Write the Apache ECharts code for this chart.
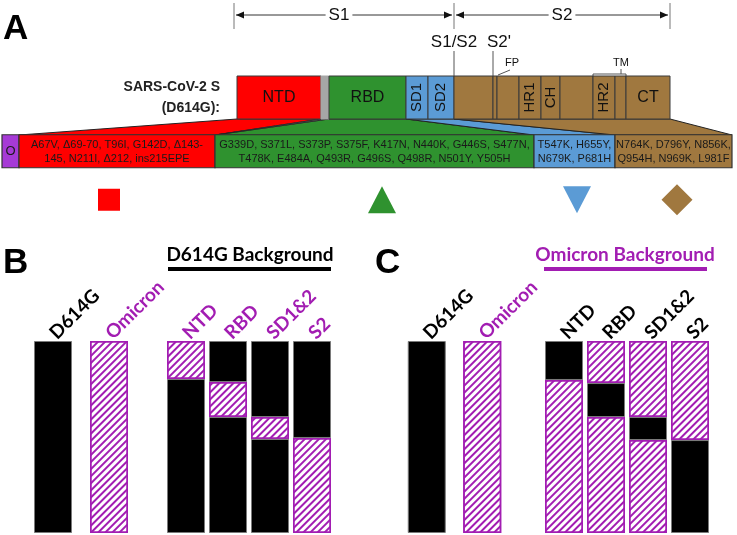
<!DOCTYPE html>
<html><head><meta charset="utf-8">
<script src="https://cdn.jsdelivr.net/npm/echarts@6/dist/echarts.min.js"></script>
<style>html,body{margin:0;padding:0;background:#fff}#c{width:737px;height:535px}</style>
</head><body><div id="c"></div>
<script>
// ================= DATA =================
// Panel A: spike schematic (schematic units along the S protein bar)
const domainLabels = ['NTD', '', 'RBD', 'SD1', 'SD2', '', '', '', 'HR1', 'CH', '', 'HR2', '', 'CT'];
const domainKinds  = ['NTD', 'gap', 'RBD', 'SD', 'SD', 'S2', 'S2', 'S2', 'S2', 'S2', 'S2', 'S2', 'S2', 'S2'];
const domainBounds = [0, 84, 92, 169, 191, 217, 256, 260, 282, 304, 323, 356, 378, 389, 433];
const subunitNames = ['S1', 'S2'];
const subunitBounds = [0, 217, 433];
const cleavageNames = ['S1/S2', "S2'"];
const cleavagePos = [217, 256];
const fpPos = 260;
const tmSpan = [356, 389];
const tmLabelPos = 384;

// Omicron mutation blocks (schematic units along the mutation bar)
const mutRegions = ['O', 'NTD', 'RBD', 'SD', 'S2'];
const mutBounds = [0, 17, 213, 532, 613, 730];
const mutTexts = [
  'O',
  'A67V, \u039469-70, T96I, G142D, \u0394143-\n145, N211I, \u0394212, ins215EPE',
  'G339D, S371L, S373P, S375F, K417N, N440K, G446S, S477N,\nT478K, E484A, Q493R, G496S, Q498R, N501Y, Y505H',
  'T547K, H655Y,\nN679K, P681H',
  'N764K, D796Y, N856K,\nQ954H, N969K, L981F'
];
// domain span each mutation block came from
const mutDomainStart = [null, 0, 92, 169, 217];
const mutDomainEnd   = [null, 84, 169, 217, 433];
const markerRegions = ['NTD', 'RBD', 'SD', 'S2'];
const markerPos = [107, 380, 575, 675];

// Panels B / C: chimera bars (percent of spike length, from the top)
const parentCats = ['D614G', 'Omicron'];
const chimeraCats = ['NTD', 'RBD', 'SD1&2', 'S2'];
const barLength = 100;
const swapStartB = [0, 21.4, 39.6, 50.5];
const swapEndB   = [19.8, 39.6, 51.0, 100];
const swapStartC = [0, 21.9, 39.6, 51.6];
const swapEndC   = [20.3, 39.6, 51.6, 100];

// ================= STYLE =================
const PURPLE = '#a21db2';
const regionColor = { NTD: '#ff0000', gap: '#a6a6a6', RBD: '#2f922f', SD: '#5b9bd5', S2: '#a0783f', O: '#a63ad6' };
const BLACK = { color: '#000', borderColor: '#7a7a7a', borderWidth: 1 };
const HATCH = {
  color: '#fff', borderColor: PURPLE, borderWidth: 1.5,
  decal: { symbol: 'rect', symbolSize: 1, dashArrayX: [1, 0], dashArrayY: [2, 3], rotation: -Math.PI / 4, color: PURPLE }
};
const SANS = '"Liberation Sans", Arial, sans-serif';
const LABELF = 'Lato, "Open Sans", sans-serif';

const chart = echarts.init(document.getElementById('c'));

function nz(v) { return v > 0.001 ? v : '-'; }
function segs(starts, ends) {
  const pre = [], swap = [], post = [];
  for (let i = 0; i < starts.length; i++) {
    pre.push(nz(starts[i]));
    swap.push(nz(ends[i] - starts[i]));
    post.push(nz(barLength - ends[i]));
  }
  return { pre, swap, post };
}
function styled(arr, st) { return arr.map(v => ({ value: v, itemStyle: st })); }

const segB = segs(swapStartB, swapEndB);
const segC = segs(swapStartC, swapEndC);

const hiddenY = (gi) => ({ gridIndex: gi, type: 'value', min: 0, max: barLength, inverse: true, show: false });
const labelAxis = (gi, cats, colors) => ({
  gridIndex: gi, type: 'category', data: cats, position: 'top',
  axisLine: { show: false }, axisTick: { show: false },
  axisLabel: { rotate: 45, margin: 5, fontFamily: LABELF, fontWeight: 'bold', fontSize: 19, color: (v, i) => colors[i] }
});

const domainData = domainLabels.map((l, i) => [domainBounds[i], domainBounds[i + 1], 0]);
const mutData = mutRegions.map((r, i) => [mutBounds[i], mutBounds[i + 1], 0]);

const vertical = { SD1: 1, SD2: 1, HR1: 1, CH: 1, HR2: 1 };

const option = {
  animation: false,
  grid: [
    { left: 237, width: 433, top: 76, height: 43 },             // 0 domain bar
    { left: 2, width: 730, top: 127, height: 97 },              // 1 mutation bar + markers
    { left: 25, width: 112, top: 341, height: 192 },            // 2 B parents
    { left: 165, width: 168, top: 341, height: 192 },           // 3 B chimeras
    { left: 399, width: 111, top: 341, height: 192 },           // 4 C parents
    { left: 543, width: 168, top: 341, height: 192 }            // 5 C chimeras
  ],
  xAxis: [
    { gridIndex: 0, type: 'value', min: 0, max: 433, show: false },
    { gridIndex: 1, type: 'value', min: 0, max: 730, show: false },
    labelAxis(2, parentCats, ['#000', PURPLE]),
    labelAxis(3, chimeraCats, [PURPLE, PURPLE, PURPLE, PURPLE]),
    labelAxis(4, parentCats, ['#000', PURPLE]),
    labelAxis(5, chimeraCats, ['#000', '#000', '#000', '#000'])
  ],
  yAxis: [
    { gridIndex: 0, type: 'category', data: ['SARS-CoV-2 S\n(D614G):'], axisLine: { show: false }, axisTick: { show: false },
      axisLabel: { margin: 17, fontFamily: SANS, fontWeight: 'bold', fontSize: 14, lineHeight: 21, color: '#222', align: 'right' } },
    { gridIndex: 1, type: 'category', data: ['mutations', 'markers'], inverse: true, show: false },
    hiddenY(2), hiddenY(3), hiddenY(4), hiddenY(5)
  ],
  series: [
    {
      type: 'custom', xAxisIndex: 0, yAxisIndex: 0, data: domainData, encode: { x: [0, 1], y: 2 }, z: 5,
      renderItem: function (params, api) {
        const i = params.dataIndex;
        const a = api.coord([api.value(0), api.value(2)]);
        const b = api.coord([api.value(1), api.value(2)]);
        const h = api.size([0, 1])[1];
        const kind = domainKinds[i];
        const lab = domainLabels[i];
        const children = [{
          type: 'rect', shape: { x: a[0], y: a[1] - h / 2, width: b[0] - a[0], height: h },
          style: { fill: regionColor[kind], stroke: kind === 'gap' ? regionColor.gap : '#3a3a3a', lineWidth: 1 }
        }];
        if (lab) {
          children.push({
            type: 'text', x: (a[0] + b[0]) / 2, y: a[1], rotation: vertical[lab] ? Math.PI / 2 : 0,
            style: { text: lab, fill: '#111', font: (vertical[lab] ? '15px ' : '16px ') + SANS, align: 'center', verticalAlign: 'middle', textAlign: 'center', textVerticalAlign: 'middle' }
          });
        }
        return { type: 'group', children };
      }
    },
    {
      type: 'custom', xAxisIndex: 1, yAxisIndex: 1, data: mutData, encode: { x: [0, 1], y: 2 }, z: 5,
      renderItem: function (params, api) {
        const i = params.dataIndex;
        const a = api.coord([api.value(0), api.value(2)]);
        const b = api.coord([api.value(1), api.value(2)]);
        const h = 33;
        return {
          type: 'group', children: [
            { type: 'rect', shape: { x: a[0], y: a[1] - h / 2, width: b[0] - a[0], height: h },
              style: { fill: regionColor[mutRegions[i]], stroke: '#333', lineWidth: 1.2 } },
            { type: 'text', x: (a[0] + b[0]) / 2, y: a[1] + 0.5,
              style: { text: mutTexts[i], fill: '#1a1a1a', font: (i === 0 ? '13px ' : '11px ') + SANS, lineHeight: 14,
                align: 'center', verticalAlign: 'middle', textAlign: 'center', textVerticalAlign: 'middle' } }
          ]
        };
      }
    },
    {
      type: 'scatter', xAxisIndex: 1, yAxisIndex: 1, z: 5,
      data: markerRegions.map((r, i) => {
        const sym = [['rect', [22, 22], 0], ['triangle', [28, 27], 0], ['triangle', [28, 27], 180], ['diamond', [31, 31], 0]][i];
        return { value: [markerPos[i], 1], symbol: sym[0], symbolSize: sym[1], symbolRotate: sym[2], itemStyle: { color: regionColor[r], opacity: 1 } };
      })
    },
    // Panel B
    { type: 'bar', xAxisIndex: 2, yAxisIndex: 2, barWidth: 38, data: [{ value: barLength, itemStyle: BLACK }, { value: barLength, itemStyle: HATCH }] },
    { type: 'bar', xAxisIndex: 3, yAxisIndex: 3, barWidth: 38, stack: 'b', data: styled(segB.pre, BLACK) },
    { type: 'bar', xAxisIndex: 3, yAxisIndex: 3, barWidth: 38, stack: 'b', data: styled(segB.swap, HATCH) },
    { type: 'bar', xAxisIndex: 3, yAxisIndex: 3, barWidth: 38, stack: 'b', data: styled(segB.post, BLACK) },
    // Panel C
    { type: 'bar', xAxisIndex: 4, yAxisIndex: 4, barWidth: 38, data: [{ value: barLength, itemStyle: BLACK }, { value: barLength, itemStyle: HATCH }] },
    { type: 'bar', xAxisIndex: 5, yAxisIndex: 5, barWidth: 38, stack: 'c', data: styled(segC.pre, HATCH) },
    { type: 'bar', xAxisIndex: 5, yAxisIndex: 5, barWidth: 38, stack: 'c', data: styled(segC.swap, BLACK) },
    { type: 'bar', xAxisIndex: 5, yAxisIndex: 5, barWidth: 38, stack: 'c', data: styled(segC.post, HATCH) }
  ]
};
chart.setOption(option);

// ---------- annotations positioned through the axes ----------
const dx = v => chart.convertToPixel({ xAxisIndex: 0 }, v);
const mx = v => chart.convertToPixel({ xAxisIndex: 1 }, v);
const domTop = 76, domBot = 119, mutTop = 135;
const g = [];

// trapezoid connectors
for (let i = 1; i < mutRegions.length; i++) {
  g.push({ type: 'polygon', z: 1, shape: { points: [[dx(mutDomainStart[i]), domBot], [dx(mutDomainEnd[i]), domBot], [mx(mutBounds[i + 1]), mutTop], [mx(mutBounds[i]), mutTop]] },
    style: { fill: regionColor[mutRegions[i]], stroke: '#222', lineWidth: 1 } });
}
g.push({ type: 'polygon', z: 1, shape: { points: [[dx(domainBounds[1]), domBot], [dx(domainBounds[2]), domBot], [mx(mutBounds[2]), mutTop]] },
  style: { fill: '#555', stroke: '#222', lineWidth: 0.5 } });

// subunit arrows
const arrowY = 15;
subunitBounds.forEach(v => {
  g.push({ type: 'line', shape: { x1: dx(v) - (v === 0 ? 3 : 0), y1: 3, x2: dx(v) - (v === 0 ? 3 : 0), y2: 29 }, style: { stroke: '#777', lineWidth: 1 } });
});
function arrowHead(x, dir) {
  return { type: 'polygon', shape: { points: [[x, arrowY], [x - dir * 8, arrowY - 3.5], [x - dir * 8, arrowY + 3.5]] }, style: { fill: '#111' } };
}
for (let i = 0; i < subunitNames.length; i++) {
  const x1 = dx(subunitBounds[i]) + (i === 0 ? -1 : 2), x2 = dx(subunitBounds[i + 1]) - 2;
  g.push({ type: 'line', shape: { x1: x1, y1: arrowY, x2: x2, y2: arrowY }, style: { stroke: '#333', lineWidth: 1 } });
  g.push(arrowHead(x1, -1), arrowHead(x2, 1));
  g.push({ type: 'text', x: (x1 + x2) / 2 + (i === 0 ? -5 : 0), y: arrowY, z: 10,
    style: { text: subunitNames[i], font: '17px ' + SANS, fill: '#111', align: 'center', verticalAlign: 'middle', backgroundColor: '#fff', padding: [0, 3] } });
}
// cleavage sites
cleavageNames.forEach((n, i) => {
  const x = dx(cleavagePos[i]);
  g.push({ type: 'line', shape: { x1: x, y1: 51, x2: x, y2: domTop }, style: { stroke: '#555', lineWidth: 1 } });
  g.push({ type: 'text', x: x + (i === 1 ? 6 : 0), y: 42, style: { text: n, font: '17px ' + SANS, fill: '#111', align: 'center', verticalAlign: 'middle' } });
});
// FP and TM tags
g.push({ type: 'line', shape: { x1: dx(fpPos) + 1, y1: 75, x2: dx(fpPos) + 13, y2: 70 }, style: { stroke: '#555', lineWidth: 1 } });
g.push({ type: 'text', x: dx(fpPos) + 15, y: 63, style: { text: 'FP', font: '11px ' + SANS, fill: '#111', align: 'center', verticalAlign: 'middle' } });
g.push({ type: 'polyline', shape: { points: [[dx(tmSpan[0]), domTop], [dx(tmSpan[0]), 74], [dx(tmSpan[1]), 74], [dx(tmSpan[1]), domTop]] }, style: { stroke: '#555', lineWidth: 1, fill: null } });
g.push({ type: 'line', shape: { x1: dx(tmLabelPos), y1: 74, x2: dx(tmLabelPos), y2: 69 }, style: { stroke: '#555', lineWidth: 1 } });
g.push({ type: 'text', x: dx(tmLabelPos), y: 63, style: { text: 'TM', font: '11px ' + SANS, fill: '#111', align: 'center', verticalAlign: 'middle' } });

// panel letters
[['A', 3, 12], ['B', 3, 246], ['C', 375, 246]].forEach(([t, x, y]) => {
  g.push({ type: 'text', x: x, y: y, style: { text: t, font: 'bold 35px ' + SANS, fill: '#000', align: 'left', verticalAlign: 'top' } });
});
// background titles
g.push({ type: 'text', x: 250, y: 255, style: { text: 'D614G Background', font: 'bold 19px ' + LABELF, fill: '#000', align: 'center', verticalAlign: 'middle' } });
g.push({ type: 'rect', shape: { x: 168, y: 267, width: 163, height: 4 }, style: { fill: '#000' } });
g.push({ type: 'text', x: 625, y: 255, style: { text: 'Omicron Background', font: 'bold 19px ' + LABELF, fill: PURPLE, align: 'center', verticalAlign: 'middle' } });
g.push({ type: 'rect', shape: { x: 544, y: 267, width: 163, height: 4 }, style: { fill: PURPLE } });

chart.setOption({ graphic: { elements: g } });
</script>
</body></html>
